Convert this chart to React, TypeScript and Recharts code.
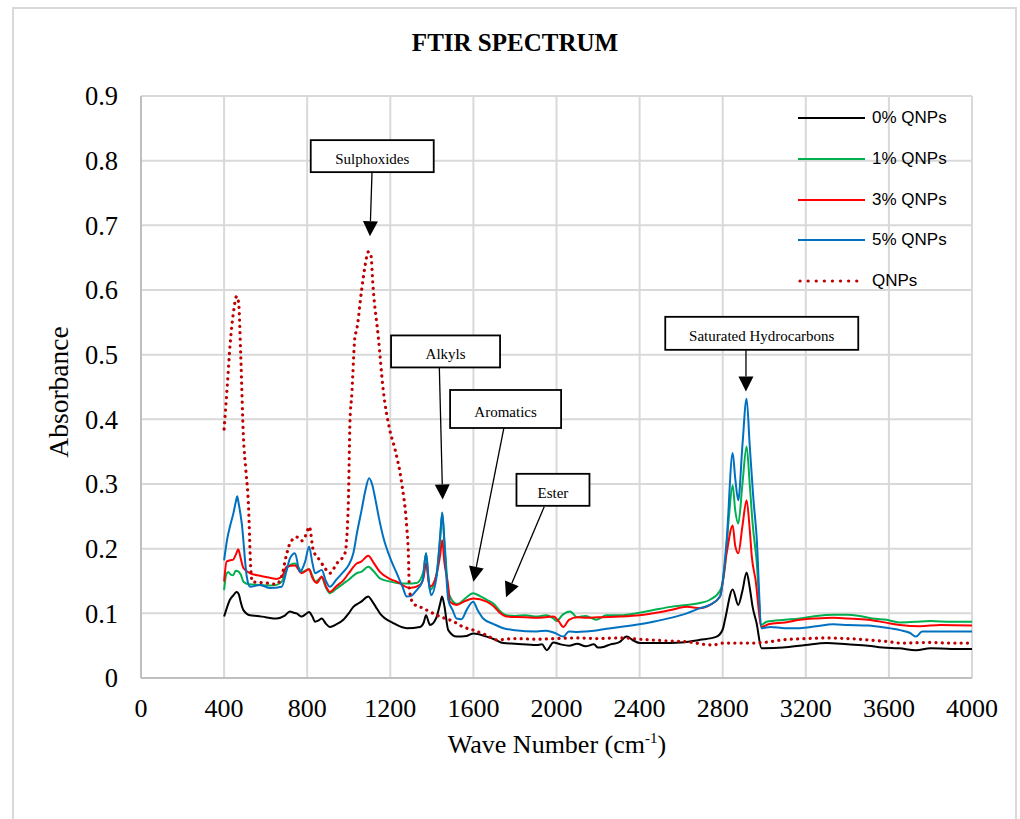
import React from 'react';
import { LineChart, Line, XAxis, YAxis, CartesianGrid, ReferenceLine, ReferenceDot } from 'recharts';

// ---------- Data (wave number cm-1 / absorbance) ----------
const qnpsWn = [400,415,430,445,460,470,480,493,505,517,528,535,560,600,650,677,700,717,749,773,795,810,829,861,885,909,942,982,998,1006,1014,1030,1038,1062,1080,1094,1106,1118,1142,1166,1198,1223,1255,1279,1287,1292,1311,1343,1375,1439,1500,1551,1600,1664,1712,1800,1900,2000,2100,2200,2306,2400,2500,2627,2753,2800,2930,3000,3090,3200,3300,3400,3490,3600,3654,3800,3900,4000];
const qnpsAbs = [0.385,0.45,0.52,0.565,0.59,0.58,0.5,0.373,0.32,0.27,0.172,0.149,0.148,0.147,0.145,0.157,0.19,0.208,0.218,0.212,0.222,0.234,0.198,0.182,0.17,0.162,0.177,0.193,0.27,0.399,0.435,0.528,0.538,0.6,0.64,0.659,0.655,0.6,0.528,0.445,0.383,0.353,0.301,0.234,0.193,0.136,0.115,0.11,0.105,0.095,0.088,0.079,0.074,0.066,0.059,0.061,0.06,0.061,0.062,0.061,0.062,0.06,0.058,0.056,0.051,0.054,0.054,0.055,0.059,0.061,0.062,0.061,0.059,0.056,0.054,0.055,0.054,0.054];

const p0Wn = [400,415,428,445,460,470,482,493,525,560,600,653,690,717,735,749,773,790,809,825,838,855,870,890,909,940,974,1000,1022,1060,1094,1110,1130,1150,1214,1279,1343,1360,1372,1385,1391,1420,1440,1449,1460,1479,1519,1567,1600,1664,1700,1744,1800,1904,1930,1953,1985,2020,2060,2100,2140,2180,2200,2225,2260,2300,2338,2370,2402,2500,2600,2691,2771,2800,2811,2848,2875,2895,2915,2930,2944,2963,2987,3000,3090,3200,3300,3400,3500,3570,3650,3730,3800,3900,4000];
const p0Abs = [0.095,0.11,0.121,0.128,0.133,0.13,0.115,0.105,0.097,0.096,0.094,0.092,0.096,0.103,0.101,0.1,0.095,0.098,0.102,0.095,0.087,0.089,0.092,0.084,0.079,0.083,0.09,0.1,0.11,0.118,0.126,0.12,0.11,0.1,0.085,0.077,0.079,0.085,0.097,0.086,0.082,0.092,0.115,0.126,0.112,0.074,0.064,0.065,0.069,0.064,0.06,0.054,0.053,0.051,0.052,0.043,0.055,0.052,0.05,0.053,0.049,0.052,0.047,0.048,0.052,0.055,0.064,0.058,0.054,0.054,0.055,0.059,0.064,0.075,0.09,0.137,0.113,0.135,0.163,0.14,0.11,0.085,0.046,0.046,0.047,0.051,0.054,0.052,0.05,0.047,0.046,0.043,0.046,0.045,0.045];

const p1Wn = [400,410,420,432,444,456,468,480,493,520,573,620,653,680,701,741,760,773,809,825,838,870,890,909,940,974,1000,1038,1060,1094,1120,1150,1200,1231,1280,1327,1359,1372,1385,1391,1420,1440,1450,1460,1479,1487,1519,1527,1560,1599,1630,1664,1700,1730,1760,1800,1850,1904,1950,1985,2000,2030,2065,2100,2140,2193,2240,2306,2400,2466,2550,2627,2691,2739,2787,2811,2830,2848,2860,2875,2895,2915,2930,2944,2963,2987,3011,3100,3172,3250,3332,3400,3460,3520,3589,3650,3730,3800,3900,4000];
const p1Abs = [0.136,0.16,0.164,0.16,0.159,0.166,0.165,0.16,0.149,0.145,0.144,0.143,0.144,0.15,0.17,0.177,0.17,0.164,0.168,0.158,0.149,0.155,0.14,0.131,0.138,0.146,0.152,0.162,0.164,0.172,0.165,0.154,0.149,0.147,0.146,0.147,0.164,0.193,0.15,0.136,0.157,0.215,0.255,0.215,0.136,0.126,0.115,0.115,0.123,0.131,0.127,0.121,0.114,0.103,0.097,0.096,0.097,0.095,0.097,0.092,0.088,0.098,0.103,0.094,0.096,0.09,0.097,0.097,0.101,0.105,0.11,0.113,0.116,0.121,0.135,0.172,0.25,0.298,0.26,0.239,0.3,0.358,0.3,0.239,0.182,0.082,0.087,0.09,0.092,0.096,0.098,0.098,0.096,0.092,0.09,0.086,0.087,0.088,0.087,0.087];

const p3Wn = [400,412,430,444,458,468,480,493,525,573,620,653,680,701,741,773,809,825,846,870,890,909,940,974,1000,1038,1060,1094,1120,1150,1200,1231,1295,1343,1360,1372,1385,1391,1420,1440,1450,1460,1479,1487,1519,1560,1599,1664,1700,1730,1760,1850,1904,1985,2010,2033,2060,2100,2145,2200,2306,2400,2466,2550,2627,2691,2739,2787,2819,2848,2860,2875,2895,2915,2930,2940,2958,2987,3020,3100,3172,3250,3332,3400,3500,3580,3654,3750,3850,4000];
const p3Abs = [0.149,0.18,0.182,0.183,0.192,0.199,0.185,0.17,0.162,0.158,0.155,0.153,0.158,0.172,0.174,0.162,0.168,0.155,0.147,0.157,0.142,0.133,0.142,0.151,0.162,0.177,0.18,0.189,0.178,0.164,0.153,0.149,0.139,0.144,0.155,0.177,0.148,0.141,0.157,0.19,0.213,0.18,0.141,0.118,0.113,0.119,0.123,0.118,0.11,0.1,0.095,0.094,0.093,0.095,0.088,0.079,0.09,0.094,0.093,0.094,0.095,0.097,0.1,0.105,0.11,0.108,0.113,0.126,0.193,0.236,0.205,0.193,0.235,0.275,0.23,0.188,0.152,0.079,0.083,0.086,0.09,0.092,0.093,0.092,0.09,0.086,0.082,0.08,0.082,0.081];

const p5Wn = [400,415,428,445,458,463,470,485,509,525,573,621,677,700,717,741,765,790,809,825,838,870,890,909,940,974,1000,1022,1040,1062,1080,1098,1112,1126,1145,1166,1200,1231,1260,1279,1300,1327,1355,1372,1385,1396,1423,1440,1450,1462,1479,1500,1519,1543,1567,1599,1620,1647,1700,1744,1800,1904,1950,1990,2033,2060,2100,2145,2200,2306,2400,2466,2550,2627,2691,2739,2787,2819,2848,2860,2875,2895,2915,2930,2947,2963,2987,3030,3100,3172,3250,3332,3400,3500,3580,3654,3700,3730,3760,3850,4000];
const p5Abs = [0.182,0.215,0.234,0.255,0.275,0.281,0.27,0.239,0.157,0.141,0.144,0.139,0.141,0.165,0.185,0.193,0.164,0.18,0.203,0.178,0.162,0.167,0.15,0.141,0.152,0.164,0.175,0.193,0.225,0.26,0.29,0.309,0.3,0.28,0.248,0.218,0.185,0.162,0.14,0.126,0.127,0.136,0.15,0.193,0.15,0.128,0.157,0.22,0.256,0.2,0.121,0.105,0.092,0.091,0.105,0.118,0.105,0.092,0.083,0.077,0.074,0.072,0.073,0.07,0.064,0.072,0.071,0.072,0.074,0.079,0.083,0.087,0.093,0.1,0.108,0.113,0.126,0.213,0.348,0.31,0.275,0.36,0.432,0.36,0.28,0.22,0.077,0.079,0.077,0.077,0.08,0.083,0.082,0.081,0.078,0.074,0.07,0.064,0.072,0.072,0.072];

const xTicks = [0,400,800,1200,1600,2000,2400,2800,3200,3600,4000];
const yTicks = [0,0.1,0.2,0.3,0.4,0.5,0.6,0.7,0.8,0.9];

// annotations: label, box centre (data coords), arrow from -> to (data coords)
const annLabels = ['Sulphoxides','Alkyls','Aromatics','Ester','Saturated Hydrocarbons'];
const annBoxX = [1113,1466,1755,1983,2988];
const annBoxY = [0.807,0.505,0.416,0.291,0.533];
const annBoxW = [123,109,111,73,193];
const annBoxH = [32,32,38,32,33];
const annFromX = [1112,1436,1747,1941,2912];
const annFromY = [0.782,0.480,0.387,0.265,0.507];
const annToX = [1102,1452,1600,1757,2912];
const annToY = [0.683,0.276,0.149,0.125,0.443];

const zip = (w: number[], a: number[]) => w.map((x, i) => ({ x, y: a[i] }));

const series = [
  { name: '0% QNPs', data: zip(p0Wn, p0Abs), color: '#000000', dotted: false },
  { name: '1% QNPs', data: zip(p1Wn, p1Abs), color: '#00b050', dotted: false },
  { name: '3% QNPs', data: zip(p3Wn, p3Abs), color: '#ff0000', dotted: false },
  { name: '5% QNPs', data: zip(p5Wn, p5Abs), color: '#0070c0', dotted: false },
  { name: 'QNPs', data: zip(qnpsWn, qnpsAbs), color: '#c00000', dotted: true },
];

const SERIF = '"Liberation Serif", "Times New Roman", serif';

const Arrow = (p: any) => {
  const { x1, y1, x2, y2 } = p;
  const dx = x2 - x1, dy = y2 - y1;
  const L = Math.hypot(dx, dy) || 1;
  const ux = dx / L, uy = dy / L;
  const hl = 15, hw = 7.5;
  const bx = x2 - ux * hl, by = y2 - uy * hl;
  const pts = `${x2},${y2} ${bx - uy * hw},${by + ux * hw} ${bx + uy * hw},${by - ux * hw}`;
  return (
    <g>
      <line x1={x1} y1={y1} x2={bx} y2={by} stroke="#000" strokeWidth={1.3} />
      <polygon points={pts} fill="#000" />
    </g>
  );
};

const makeBox = (label: string, w: number, h: number) => (p: any) => (
  <g>
    <rect x={p.cx - w / 2} y={p.cy - h / 2} width={w} height={h} fill="#fff" stroke="#000" strokeWidth={1.8} />
    <text x={p.cx} y={p.cy + 8} textAnchor="middle" fontFamily={SERIF} fontSize={15} fill="#000">{label}</text>
  </g>
);

export default function App() {
  return (
    <div style={{ position: 'absolute', left: 0, top: 0, width: 1020, height: 819, overflow: 'hidden', background: '#fff' }}>
      <div style={{ position: 'absolute', left: 12, top: 7, width: 1005, height: 840, border: '2px solid #d9d9d9', boxSizing: 'border-box' }} />
      <div style={{ position: 'absolute', left: 0, width: 1030, top: 28, textAlign: 'center', fontFamily: SERIF, fontWeight: 'bold', fontSize: 25, lineHeight: '30px', color: '#000' }}>
        FTIR SPECTRUM
      </div>
      <div style={{ position: 'absolute', left: 0, top: 0 }}>
        <LineChart width={1020} height={819} margin={{ top: 96, right: 48, left: 0, bottom: 0 }}>
          <CartesianGrid stroke="#d9d9d9" strokeWidth={2} horizontalValues={yTicks} verticalValues={xTicks} />
          <XAxis
            type="number"
            dataKey="x"
            domain={[0, 4000]}
            ticks={xTicks}
            allowDataOverflow
            height={141}
            tickLine={false}
            tickSize={0}
            tickMargin={21}
            axisLine={{ stroke: '#bfbfbf', strokeWidth: 2 }}
            tick={{ fontFamily: SERIF, fontSize: 26, fill: '#000' }}
            interval={0}
          />
          <YAxis
            type="number"
            domain={[0, 0.9]}
            ticks={yTicks}
            allowDataOverflow
            width={141}
            tickLine={false}
            tickSize={0}
            tickMargin={23}
            axisLine={{ stroke: '#bfbfbf', strokeWidth: 2 }}
            tick={{ fontFamily: SERIF, fontSize: 26.5, fill: '#000' }}
            tickFormatter={(v: number) => (v === 0 ? '0' : v.toFixed(1))}
            interval={0}
          />
          {series.map((s) => (
            <Line
              key={s.name}
              data={s.data}
              dataKey="y"
              name={s.name}
              type="monotone"
              stroke={s.color}
              strokeWidth={s.dotted ? 3.2 : 2}
              strokeDasharray={s.dotted ? '0.1 6.2' : undefined}
              strokeLinecap={s.dotted ? 'round' : 'butt'}
              dot={false}
              activeDot={false}
              isAnimationActive={false}
            />
          ))}
          {annLabels.map((lab, i) => (
            <ReferenceLine
              key={'a' + i}
              segment={[{ x: annFromX[i], y: annFromY[i] }, { x: annToX[i], y: annToY[i] }]}
              shape={Arrow}
            />
          ))}
          {annLabels.map((lab, i) => (
            <ReferenceDot
              key={'b' + i}
              x={annBoxX[i]}
              y={annBoxY[i]}
              r={1}
              shape={makeBox(lab, annBoxW[i], annBoxH[i])}
            />
          ))}
        </LineChart>
      </div>
      <div style={{ position: 'absolute', left: 59, top: 392, transform: 'translate(-50%, -50%) rotate(-90deg)', fontFamily: SERIF, fontSize: 27.5, whiteSpace: 'nowrap', color: '#000' }}>
        Absorbance
      </div>
      <div style={{ position: 'absolute', left: 557, top: 745, transform: 'translate(-50%, -50%)', fontFamily: SERIF, fontSize: 26, whiteSpace: 'nowrap', color: '#000' }}>
        Wave Number (cm<sup style={{ fontSize: 15 }}>-1</sup>)
      </div>
      <div style={{ position: 'absolute', left: 798, top: 98 }}>
        {series.map((s) => (
          <div key={s.name} style={{ display: 'flex', alignItems: 'center', height: 40.7 }}>
            <svg width={68} height={10} style={{ display: 'block' }}>
              <line
                x1={s.dotted ? 2 : 0}
                y1={5}
                x2={s.dotted ? 66 : 67}
                y2={5}
                stroke={s.color}
                strokeWidth={s.dotted ? 3.2 : 2}
                strokeDasharray={s.dotted ? '0.1 8' : undefined}
                strokeLinecap={s.dotted ? 'round' : 'butt'}
              />
            </svg>
            <span style={{ marginLeft: 6, fontFamily: '"Liberation Sans", Arial, sans-serif', fontSize: 17, color: '#000' }}>{s.name}</span>
          </div>
        ))}
      </div>
    </div>
  );
}
